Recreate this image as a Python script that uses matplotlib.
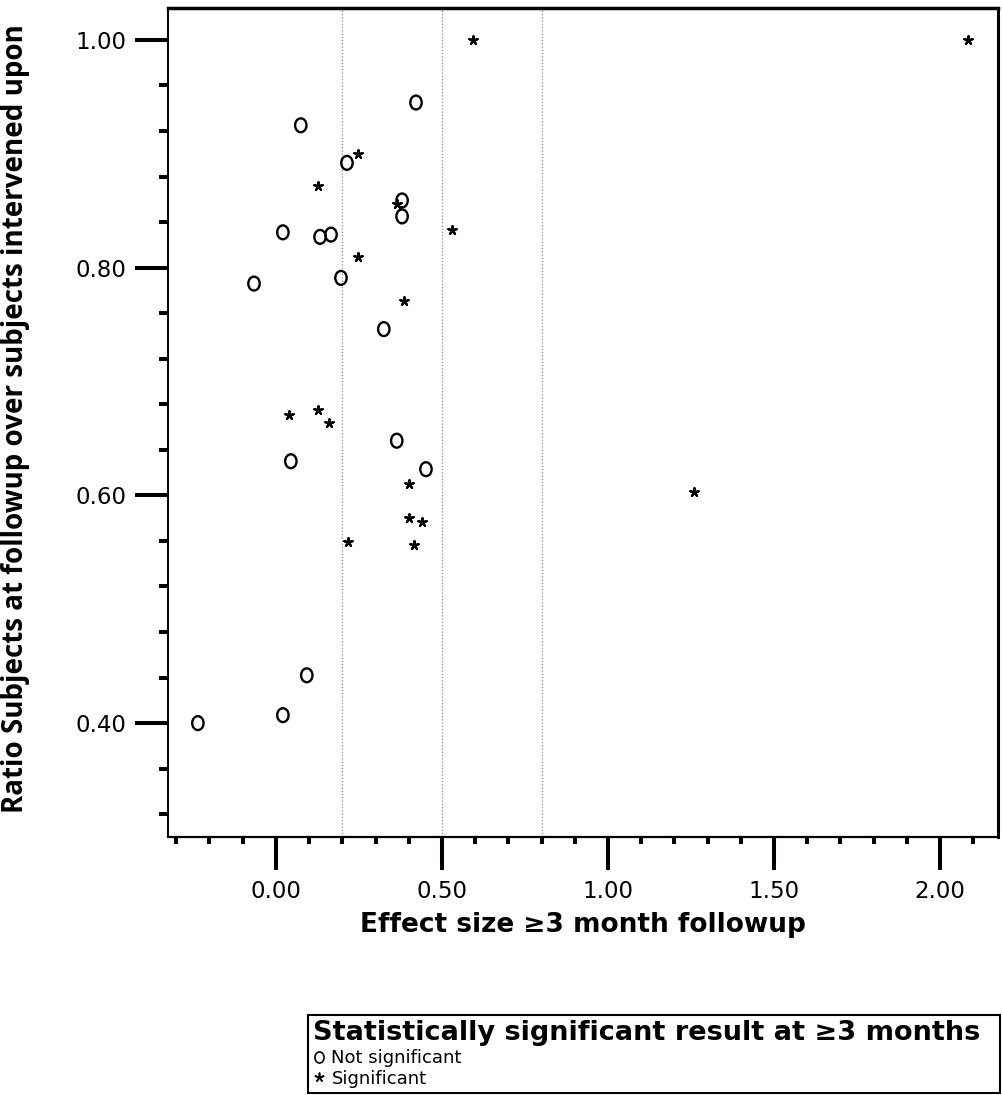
import matplotlib
matplotlib.use("Agg")
import matplotlib.pyplot as plt
from matplotlib.path import Path
from matplotlib.ticker import MultipleLocator, FormatStrFormatter, FixedLocator
from matplotlib.lines import Line2D

# Not significant studies (effect size, ratio)
ns_effect = [0.422, 0.075, 0.214, 0.380, 0.380, 0.021, 0.133, 0.166, -0.066,
             0.196, 0.325, 0.364, 0.045, 0.452, 0.093, 0.021, -0.235]
ns_ratio = [0.945, 0.925, 0.892, 0.859, 0.845, 0.831, 0.827, 0.829, 0.786,
            0.791, 0.746, 0.648, 0.630, 0.623, 0.442, 0.407, 0.400]

# Significant studies
sig_effect = [0.593, 2.084, 0.247, 0.127, 0.364, 0.530, 0.247, 0.386, 0.039,
              0.127, 0.160, 0.400, 0.400, 0.440, 0.217, 0.416, 1.259]
sig_ratio = [1.000, 1.000, 0.900, 0.872, 0.856, 0.833, 0.809, 0.771, 0.671,
             0.675, 0.664, 0.610, 0.580, 0.577, 0.559, 0.556, 0.603]

ref_lines = [0.2, 0.5, 0.8]
y_major = [0.40, 0.60, 0.80, 1.00]

W, H = 1002, 1095
fig = plt.figure(figsize=(W / 100, H / 100), dpi=100)
ax = fig.add_axes([168 / W, 1 - 837 / H, (998 - 168) / W, (837 - 8) / H])

uc = Path.unit_circle()
ell = Path(uc.vertices * [0.82, 1.0], uc.codes)

for xv in ref_lines:
    ax.axvline(xv, color="#8a8aa0", lw=0.9, ls=(0, (1, 1.6)), zorder=1)

ax.scatter(ns_effect, ns_ratio, marker=ell, s=100, facecolors="none",
           edgecolors="black", linewidths=1.7, zorder=3)
ax.scatter(sig_effect, sig_ratio, marker=(5, 2, 0), s=38, color="black",
           linewidths=1.6, zorder=3)

ax.set_xlim(-0.325, 2.175)
ax.set_ylim(0.300, 1.028)

ax.xaxis.set_major_locator(MultipleLocator(0.5))
ax.xaxis.set_minor_locator(MultipleLocator(0.1))
ax.yaxis.set_major_locator(FixedLocator(y_major))
ax.yaxis.set_minor_locator(MultipleLocator(0.04))
ax.xaxis.set_major_formatter(FormatStrFormatter("%.2f"))
ax.yaxis.set_major_formatter(FormatStrFormatter("%.2f"))

ax.tick_params(axis="both", which="major", direction="out", length=24,
               width=2.9, labelsize=16.5, pad=6)
ax.tick_params(axis="x", which="minor", direction="out", length=5, width=2.9)
ax.tick_params(axis="y", which="minor", direction="out", length=6.5, width=2.9)
ax.tick_params(axis="x", which="major", pad=7)

ax.spines["top"].set_linewidth(2.5)
ax.spines["right"].set_linewidth(2.2)
ax.spines["left"].set_linewidth(1.4)
ax.spines["bottom"].set_linewidth(1.6)

ax.set_ylabel("Ratio Subjects at followup over subjects intervened upon",
              fontsize=20, fontweight="bold", family=["Open Sans", "DejaVu Sans"])
ax.yaxis.set_label_coords(-0.166, 0.505)
ax.set_xlabel("Effect size \u22653 month followup", fontsize=19,
              fontweight="bold")
ax.xaxis.set_label_coords(0.5, -0.090)

handles = [
    Line2D([], [], ls="none", marker=ell, markersize=8, markerfacecolor="none",
           markeredgecolor="black", markeredgewidth=1.2),
    Line2D([], [], ls="none", marker=(5, 2, 0), markersize=7, color="black",
           markeredgewidth=1.2),
]
leg = fig.legend(handles, ["Not significant", "Significant"],
                 title="Statistically significant result at \u22653 months",
                 loc="lower left", bbox_to_anchor=(308 / W, 2 / H, 692 / W, 0.05),
                 bbox_transform=fig.transFigure, mode="expand", fontsize=13,
                 title_fontproperties={"size": 19.5, "weight": "bold"},
                 alignment="left", fancybox=False, edgecolor="black",
                 framealpha=1, handlelength=0.6, handletextpad=0.4,
                 borderpad=0.3, labelspacing=0.15, borderaxespad=0)
leg.get_frame().set_linewidth(1.5)

fig.savefig("out.png", dpi=100)
